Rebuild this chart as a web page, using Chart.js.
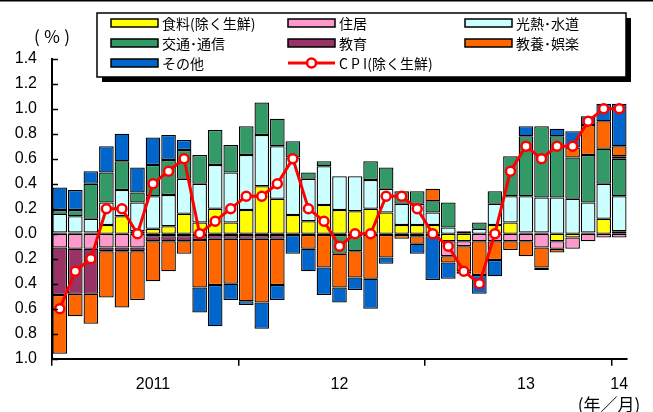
<!DOCTYPE html>
<html>
<head>
<meta charset="utf-8">
<script src="https://cdn.jsdelivr.net/npm/chart.js@4.4.1/dist/chart.umd.min.js"></script>
<style>
  html, body { margin: 0; padding: 0; background: #fff; }
  #wrap { width: 653px; height: 412px; position: relative; }
</style>
</head>
<body>
<div id="wrap"><canvas id="c" width="653" height="412"></canvas></div>
<script>
// Monthly categories, Jan 2011 – Jan 2014
const months = [
  '2011/1','2011/2','2011/3','2011/4','2011/5','2011/6','2011/7','2011/8','2011/9','2011/10','2011/11','2011/12',
  '2012/1','2012/2','2012/3','2012/4','2012/5','2012/6','2012/7','2012/8','2012/9','2012/10','2012/11','2012/12',
  '2013/1','2013/2','2013/3','2013/4','2013/5','2013/6','2013/7','2013/8','2013/9','2013/10','2013/11','2013/12',
  '2014/1'
];

// Labels shown under the category axis (one per month)
const xTickLabels = [
  '', '', '', '', '', '', '2011', '', '', '', '', '',
  '', '', '', '', '', '', '12', '', '', '', '', '',
  '', '', '', '', '', '', '13', '', '', '', '', '',
  '14'
];

// Contributions by item (percentage points)
const food = [0.01,0.01,0.01,0.07,0.14,0.02,0.04,0.06,0.16,0.09,0.20,0.09,
              0.19,0.38,0.28,0.15,0.10,0.23,0.19,0.18,0.20,0.17,0.07,0.07,
              0.07,-0.06,-0.06,0.00,0.07,0.09,0.01,0.01,-0.06,-0.03,0.01,0.12,
              0.02];
const housing = [-0.11,-0.12,-0.12,-0.11,-0.11,-0.11,-0.02,-0.02,-0.02,-0.01,-0.01,-0.01,
                 -0.01,-0.01,-0.01,-0.01,-0.01,-0.01,-0.01,-0.02,-0.01,-0.01,-0.01,-0.02,
                 -0.02,-0.12,-0.04,-0.06,-0.06,-0.06,-0.06,-0.11,-0.06,-0.09,-0.06,-0.03,
                 -0.03];
const utilities = [0.15,0.13,0.11,0.18,0.21,0.23,0.26,0.25,0.28,0.31,0.35,0.40,
                   0.44,0.41,0.42,0.46,0.34,0.31,0.27,0.28,0.23,0.19,0.17,0.17,
                   0.10,0.05,0.00,0.04,0.17,0.21,0.29,0.28,0.29,0.28,0.24,0.28,
                   0.28];
const transport = [0.03,0.05,0.28,0.24,0.23,0.08,0.25,0.28,0.23,0.23,0.28,0.22,
                   0.23,0.26,0.22,0.13,0.05,0.04,-0.15,-0.12,0.15,0.17,0.10,0.10,
                   0.09,0.20,0.02,0.05,0.10,0.32,0.48,0.57,0.49,0.33,0.38,0.28,
                   0.30];
const education = [-0.38,-0.36,-0.36,-0.03,-0.03,-0.03,-0.04,-0.04,-0.04,-0.04,-0.03,-0.03,
                   -0.03,-0.03,-0.03,0,0,0,0,0,0,0,0,0,
                   0,0,0,0,0,0,0,0,0,0,0,0,
                   0.02];
const culture = [-0.47,-0.18,-0.24,-0.37,-0.45,-0.39,-0.32,-0.24,-0.10,-0.38,-0.37,-0.36,
                 -0.50,-0.51,-0.37,0,-0.11,-0.26,-0.27,-0.21,-0.35,-0.18,-0.03,-0.06,
                 0.10,-0.05,-0.20,-0.27,-0.15,-0.07,-0.12,-0.16,-0.03,0.08,0.24,0.22,
                 0.08];
const other = [0.18,0.16,0.10,0.21,0.22,0.20,0.22,0.20,0.08,-0.20,-0.33,-0.13,
               -0.03,-0.21,-0.12,-0.15,-0.18,-0.22,-0.12,-0.10,-0.24,-0.05,0,-0.08,
               -0.35,-0.13,-0.02,-0.15,-0.13,0,0.08,-0.02,0.06,0.13,0.07,0.14,
               0.34];
// Core CPI, year-on-year (%)
const cpi = [-0.6,-0.3,-0.2,0.2,0.2,0.0,0.4,0.5,0.6,0.0,0.1,0.2,
             0.3,0.3,0.4,0.6,0.2,0.1,-0.1,0.0,0.0,0.3,0.3,0.2,
             0.0,-0.1,-0.3,-0.4,0.0,0.5,0.7,0.6,0.7,0.7,0.9,1.0,
             1.0];

const FONT_NUM = 'Liberation Sans';
const FONT_JP = '"Noto Sans CJK JP"';

function barSet(label, data, color) {
  return {
    type: 'bar', label, data,
    backgroundColor: color,
    borderColor: '#000',
    borderWidth: 1.3,
    borderSkipped: false,
    stack: 'items',
    order: 1,
    barPercentage: 0.94,
    categoryPercentage: 1.0
  };
}

// Boxed legend, inward value-axis ticks and unit captions
const decorations = {
  id: 'decorations',
  afterDraw(chart) {
    const { ctx, chartArea: a, scales: { y } } = chart;
    ctx.save();

    // short tick marks pointing into the plot
    ctx.strokeStyle = '#000';
    ctx.lineWidth = 1.5;
    y.ticks.forEach(t => {
      const py = Math.round(y.getPixelForValue(t.value)) + 0.5;
      ctx.beginPath();
      ctx.moveTo(a.left, py);
      ctx.lineTo(a.left + 6, py);
      ctx.stroke();
    });

    // thin rule along the top edge
    ctx.fillStyle = '#000';
    ctx.fillRect(0, 0, chart.width, 1.5);

    // unit captions
    ctx.font = '17px ' + FONT_JP;
    ctx.textAlign = 'center';
    ctx.textBaseline = 'middle';
    ctx.fillText('( ％ )', 52, 37);
    ctx.fillText('(年／月)', 609, 405);

    // legend frame with drop shadow
    const bx = 97, by = 13, bw = 529, bh = 64;
    ctx.fillStyle = '#000';
    ctx.fillRect(bx + 5, by + 5, bw, bh);
    ctx.fillStyle = '#fff';
    ctx.fillRect(bx, by, bw, bh);
    ctx.lineWidth = 1.5;
    ctx.strokeStyle = '#000';
    ctx.strokeRect(bx, by, bw, bh);

    const cols = [111, 288, 465];
    const rows = [23, 43, 63];
    ctx.font = '14px ' + FONT_JP;
    ctx.textAlign = 'left';
    ctx.textBaseline = 'middle';
    chart.data.datasets.forEach((ds, i) => {
      const x = cols[i % 3];
      const ry = rows[Math.floor(i / 3)];
      if (ds.type === 'line') {
        ctx.strokeStyle = ds.borderColor;
        ctx.lineWidth = 3;
        ctx.beginPath();
        ctx.moveTo(x, ry);
        ctx.lineTo(x + 47, ry);
        ctx.stroke();
        ctx.beginPath();
        ctx.arc(x + 23.5, ry, 4.5, 0, Math.PI * 2);
        ctx.fillStyle = '#fff';
        ctx.fill();
        ctx.lineWidth = 2.5;
        ctx.stroke();
      } else {
        ctx.fillStyle = ds.backgroundColor;
        ctx.fillRect(x, ry - 4, 47, 8);
        ctx.strokeStyle = '#000';
        ctx.lineWidth = 1.5;
        ctx.strokeRect(x, ry - 4, 47, 8);
      }
      ctx.fillStyle = '#000';
      ctx.fillText(ds.label, x + 51, ry + 0.5);
    });

    ctx.restore();
  }
};

new Chart(document.getElementById('c'), {
  data: {
    labels: months,
    datasets: [
      barSet('食料(除く生鮮)', food, '#FFFF00'),
      barSet('住居', housing, '#FF99CC'),
      barSet('光熱･水道', utilities, '#CCFFFF'),
      barSet('交通･通信', transport, '#339966'),
      barSet('教育', education, '#993366'),
      barSet('教養･娯楽', culture, '#FF6600'),
      barSet('その他', other, '#0066CC'),
      {
        type: 'line', label: 'C P I(除く生鮮)', data: cpi,
        borderColor: '#FF0000', borderWidth: 3,
        pointRadius: 4.5, pointBorderWidth: 2.5,
        pointBackgroundColor: '#FFFFFF', pointBorderColor: '#FF0000',
        tension: 0, stack: 'cpi', order: 0
      }
    ]
  },
  options: {
    responsive: false,
    animation: false,
    devicePixelRatio: 1,
    layout: { padding: { top: 58.7, right: 26, bottom: 0, left: 0 } },
    plugins: { legend: { display: false }, tooltip: { enabled: false } },
    scales: {
      x: {
        stacked: true,
        offset: true,
        grid: {
          offset: true, drawOnChartArea: false, drawTicks: true, tickLength: 7, lineWidth: 1.5,
          color: c => (c.index % 12 === 0 ? '#000' : 'rgba(0,0,0,0)')
        },
        border: { display: true, color: '#000', width: 2 },
        ticks: {
          autoSkip: false, maxRotation: 0, minRotation: 0, padding: 9, color: '#000',
          font: { family: FONT_NUM, size: 16 },
          callback: (v, i) => xTickLabels[i]
        },
        afterFit: s => { s.height = 53.3; }
      },
      y: {
        stacked: true,
        min: -1.0,
        max: 1.4,
        grid: { display: false, drawTicks: false },
        border: { display: true, color: '#000', width: 2 },
        ticks: {
          stepSize: 0.2, padding: 15, color: '#000',
          font: { family: FONT_NUM, size: 16 },
          callback: v => Math.abs(v).toFixed(1)
        },
        afterFit: s => { s.width = 52; }
      }
    }
  },
  plugins: [decorations]
});
</script>
</body>
</html>
